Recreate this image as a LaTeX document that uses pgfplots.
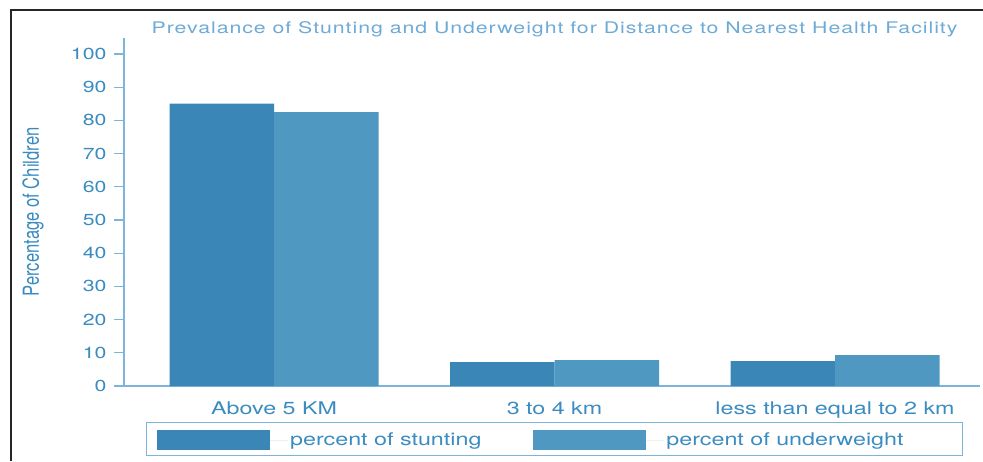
\documentclass[border=0pt]{standalone}
\usepackage{fontspec}
\setmainfont{TeX Gyre Heros}[FakeStretch=1.33]
\newfontfamily\plainsans{TeX Gyre Heros}
\newfontfamily\titlefont{TeX Gyre Heros}[FakeStretch=1.33, LetterSpace=6]
\usepackage{pgfplots}
\pgfplotsset{compat=1.18}

\definecolor{stunt}{HTML}{3A87B7}
\definecolor{under}{HTML}{4F98C1}
\definecolor{tickc}{HTML}{3A8BC0}
\definecolor{titlec}{HTML}{6DAAD5}
\definecolor{axisc}{HTML}{7DB4DA}

\begin{document}
\begin{tikzpicture}[x=1pt,y=1pt]
\useasboundingbox (0,0) rectangle (983,461);
\draw[line width=2pt, black!85] (11,0) -- (11,451) -- (983,451);
\begin{axis}[
    at={(124pt,75pt)}, anchor=south west,
    scale only axis, width=856pt, height=348pt,
    xmin=-0.535, xmax=2.517, ymin=0, ymax=104.8,
    axis x line*=bottom, axis y line*=left,
    axis line style={axisc, line width=1.2pt, -},
    ybar=0pt, bar width=104.5pt,
    xtick={0,1,2},
    xticklabels={Above 5 KM, 3 to 4 km, less than equal to 2 km},
    x tick style={draw=none},
    ytick={0,10,...,100},
    y tick style={axisc, line width=1.2pt},
    tick align=outside, major tick length=10pt,
    tick label style={tickc},
    yticklabel style={font=\fontsize{16}{16}\selectfont, xshift=-4pt},
    xticklabel style={font=\fontsize{17.5}{17.5}\selectfont, anchor=base, yshift=-18pt},
    /pgf/number format/assume math mode=true,
    title={Prevalance of Stunting and Underweight for Distance to Nearest Health Facility},
    title style={titlec, font=\titlefont\fontsize{16}{16}\selectfont, at={(0.503,1)}, anchor=base, yshift=-2pt},
    ylabel={Percentage of Children},
    ylabel style={tickc, font=\plainsans\fontsize{16.6}{16.6}\selectfont,
        at={(axis description cs:-0.1063,0.5)}, anchor=center, yscale=1.33},
    legend columns=2,
    legend image code/.code={\fill[#1] (0pt,-10pt) rectangle (113pt,10pt);
        \path (113pt,0pt) -- (131pt,0pt);},
    legend style={at={(axis description cs:0.0257,-0.112)}, anchor=north west,
        draw=none, fill=none, font=\fontsize{17.5}{17.5}\selectfont, text=tickc,
        inner xsep=11pt, inner ysep=5pt,
        /tikz/every even column/.append style={column sep=50pt}},
]
\addplot[fill=stunt, draw=none] coordinates {(0,85) (1,7.2) (2,7.5)};
\addlegendentry{percent of stunting}
\addplot[fill=under, draw=none] coordinates {(0,82.5) (1,7.8) (2,9.3)};
\addlegendentry{percent of underweight}
\end{axis}
\draw[axisc, line width=1pt] (146,39) rectangle (962,6);
\end{tikzpicture}
\end{document}
